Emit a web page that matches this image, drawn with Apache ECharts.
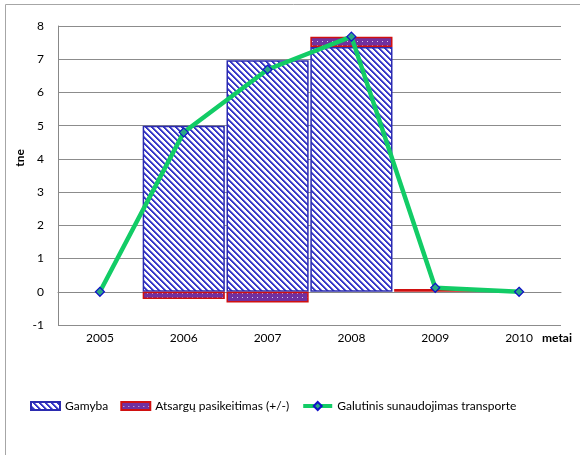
<!DOCTYPE html>
<html>
<head>
<meta charset="utf-8">
<script src="https://cdn.jsdelivr.net/npm/echarts@6/dist/echarts.min.js"></script>
<style>
  html, body { margin: 0; padding: 0; background: #fff; }
  #chart { width: 580px; height: 455px; }
</style>
</head>
<body>
<div id="chart"></div>
<script>
// Years on the category axis
const years = ['2005', '2006', '2007', '2008', '2009', '2010'];
// Production (tne)
const gamyba = [null, 5.0, 6.97, 7.37, null, null];
// Stock change (+/-), tne
const atsargu = [null, -0.22, -0.32, 0.31, 0.08, null];
// Final consumption in transport, tne
const galutinis = [0, 4.8, 6.69, 7.68, 0.12, 0];
// Value axis ticks
const yMin = -1, yMax = 8, yStep = 1;

const FONT = 'Lato, "Open Sans", sans-serif';

// Diagonal blue hatch fill for the production bars
function hatchPattern() {
  const c = document.createElement('canvas');
  const n = 6;
  c.width = n; c.height = n;
  const ctx = c.getContext('2d');
  const img = ctx.createImageData(n, n);
  for (let y = 0; y < n; y++) {
    for (let x = 0; x < n; x++) {
      const k = ((x - y) % n + n) % n;
      const i = (y * n + x) * 4;
      let r = 255, g = 255, b = 255;
      if (k === 0 || k === 1) { r = 55; g = 55; b = 200; }
      else if (k === 2) { r = 140; g = 140; b = 225; }
      img.data[i] = r; img.data[i + 1] = g; img.data[i + 2] = b; img.data[i + 3] = 255;
    }
  }
  ctx.putImageData(img, 0, 0);
  return c;
}

// Purple fill with light dots for the stock change bars
function dotPattern() {
  const c = document.createElement('canvas');
  c.width = 5; c.height = 4;
  const ctx = c.getContext('2d');
  ctx.fillStyle = '#7030a0';
  ctx.fillRect(0, 0, 5, 4);
  ctx.fillStyle = '#d8c4ec';
  ctx.fillRect(2, 1, 1, 1);
  return c;
}

const chart = echarts.init(document.getElementById('chart'), null, { renderer: 'canvas' });

const LINE_COLOR = '#12cc66';
// Flat swatch for bar legend entries: empty moves to the box corners keep
// the filled strip at 8px inside the 10px legend item box.
const BAR_ICON = 'path://M0,0 M29,0 M0,1 L29,1 L29,9 L0,9 Z M0,10 M29,10';

chart.setOption({
  animation: false,
  textStyle: { fontFamily: FONT },
  grid: { left: 58, right: 19, top: 26, bottom: 130 },
  legend: {
    left: 25,
    top: 395,
    itemWidth: 29,
    itemHeight: 10,
    itemGap: 12,
    lineStyle: { width: 4, color: LINE_COLOR },
    textStyle: { fontFamily: FONT, fontSize: 12, color: '#000' },
    data: [
      { name: 'Gamyba', icon: BAR_ICON },
      { name: 'Atsargų pasikeitimas (+/-)', icon: BAR_ICON },
      { name: 'Galutinis sunaudojimas transporte' }
    ]
  },
  xAxis: {
    type: 'category',
    data: years,
    boundaryGap: true,
    axisLine: { show: true, lineStyle: { color: '#888', width: 1 } },
    axisTick: { show: false },
    axisLabel: { color: '#000', fontSize: 12, margin: 7, fontFamily: FONT }
  },
  yAxis: {
    type: 'value',
    min: yMin,
    max: yMax,
    interval: yStep,
    axisLine: { show: true, lineStyle: { color: '#888', width: 1 } },
    axisTick: { show: false },
    axisLabel: { color: '#000', fontSize: 12, margin: 14, fontFamily: FONT },
    splitLine: { show: true, lineStyle: { color: '#8c8c8c', width: 1 } }
  },
  graphic: [
    {
      type: 'rect',
      shape: { x: 5.5, y: 4.5, width: 620, height: 500 },
      style: { fill: 'none', stroke: '#a6a6a6', lineWidth: 1 },
      silent: true
    },
    {
      type: 'text',
      x: 20, y: 158,
      rotation: Math.PI / 2,
      style: {
        text: 'tne', fill: '#000',
        font: 'bold 12px ' + FONT,
        align: 'center', verticalAlign: 'middle'
      }
    },
    {
      type: 'text',
      x: 542, y: 338,
      style: {
        text: 'metai', fill: '#000',
        font: 'bold 12px ' + FONT,
        align: 'left', verticalAlign: 'middle'
      }
    }
  ],
  series: [
    {
      name: 'Gamyba',
      type: 'bar',
      stack: 'balance',
      data: gamyba,
      barCategoryGap: '2%',
      itemStyle: {
        color: { image: hatchPattern(), repeat: 'repeat' },
        borderColor: '#2b2bb0',
        borderWidth: 1.5
      },
      z: 2
    },
    {
      name: 'Atsargų pasikeitimas (+/-)',
      type: 'bar',
      stack: 'balance',
      data: atsargu,
      barCategoryGap: '2%',
      itemStyle: {
        color: { image: dotPattern(), repeat: 'repeat' },
        borderColor: '#d01010',
        borderWidth: 1.5
      },
      z: 2
    },
    {
      name: 'Galutinis sunaudojimas transporte',
      type: 'line',
      data: galutinis,
      smooth: false,
      symbol: 'diamond',
      symbolSize: 9,
      lineStyle: { color: LINE_COLOR, width: 4.5 },
      itemStyle: { color: '#2aa884', borderColor: '#1010c8', borderWidth: 1.2 },
      z: 5
    }
  ]
});
</script>
</body>
</html>
